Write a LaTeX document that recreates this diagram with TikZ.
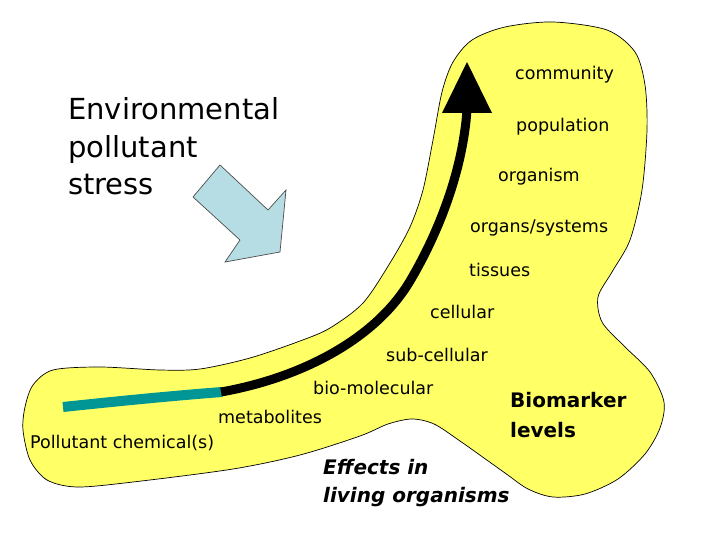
\documentclass[tikz,border=0pt]{standalone}
\usepackage{fontspec}
\setmainfont{DejaVu Sans}
\definecolor{blobyellow}{RGB}{255,255,102}
\definecolor{arrowblue}{RGB}{183,221,228}
\definecolor{tealline}{RGB}{0,150,150}
\tikzset{
  lvl/.style={anchor=base west, inner sep=0pt, font=\fontsize{17.5}{20}\selectfont},
  bigtxt/.style={anchor=base west, inner sep=0pt, font=\fontsize{29}{34}\selectfont},
  bmtxt/.style={anchor=base west, inner sep=0pt, font=\fontsize{20}{24}\selectfont\bfseries},
  eftxt/.style={anchor=base west, inner sep=0pt, font=\fontsize{20}{24}\selectfont\bfseries\itshape},
}
\begin{document}
\begin{tikzpicture}[x=1pt,y=-1pt]
\path[use as bounding box, fill=white] (0,0) rectangle (720,540);
% yellow blob
\draw[fill=blobyellow, line width=0.7pt] plot[smooth cycle, tension=0.5] coordinates {
 (433,140) (442,92) (453,62) (472,40) (505,27) (553,22) (607,30) (635,52) (645,85) (647,130)
 (642,190) (630,240) (612,272) (598,297) (602,322) (623,345) (650,372) (664,402)
 (660,428) (645,454) (618,479) (585,494) (553,497) (528,489) (505,473) (460,441)
 (434,424) (412,419) (388,424) (360,436) (300,455) (233,469) (133,482) (77,487)
 (47,480) (30,460) (23,430) (25,407) (33,385) (53,370) (100,367) (160,370)
 (200,369) (250,358) (300,341) (330,328) (363,303) (390,263) (410,227) (423,190)};
% blue block arrow
\draw[fill=arrowblue, draw=black!70, line width=0.7pt]
 (220,165) -- (268,210) -- (286,190) -- (280,252) -- (225,262) -- (240,240) -- (193,197) -- cycle;
% pathway
\coordinate (start) at (63,407);
\coordinate (mid) at (222,392);
\coordinate (bend) at (410,281);
\coordinate (shaftend) at (467,110);
\coordinate (tip) at (467,62);
\draw[tealline, line width=10pt] (start) .. controls (120,401) and (170,396) .. (mid);
\draw[black, line width=9pt] ([xshift=-1pt]mid) .. controls (300,378) and (375,340) .. (bend)
  .. controls (432,244) and (462,180) .. (shaftend);
\fill[black] (tip) -- (492,113) -- (442,113) -- cycle;
% texts
\node[bigtxt] (env1) at (68,120) {Environmental};
\node[bigtxt] (env2) at (68,158) {pollutant};
\node[bigtxt] (env3) at (68,195) {stress};
\node[lvl] (community) at (515,80) {community};
\node[lvl] (population) at (516,132) {population};
\node[lvl] (organism) at (498,182) {organism};
\node[lvl] (organs) at (470,233) {organs/systems};
\node[lvl] (tissues) at (469,276) {tissues};
\node[lvl] (cellular) at (430,318) {cellular};
\node[lvl] (subcell) at (386,361) {sub-cellular};
\node[lvl] (biomol) at (313,394) {bio-molecular};
\node[lvl] (metab) at (218,423) {metabolites};
\node[lvl] (pollchem) at (30,448) {Pollutant chemical(s)};
\node[bmtxt] (bm1) at (510,407) {Biomarker};
\node[bmtxt] (bm2) at (510,437) {levels};
\node[eftxt] (ef1) at (323,474) {Effects in};
\node[eftxt] (ef2) at (323,502) {living organisms};
\end{tikzpicture}
\end{document}
